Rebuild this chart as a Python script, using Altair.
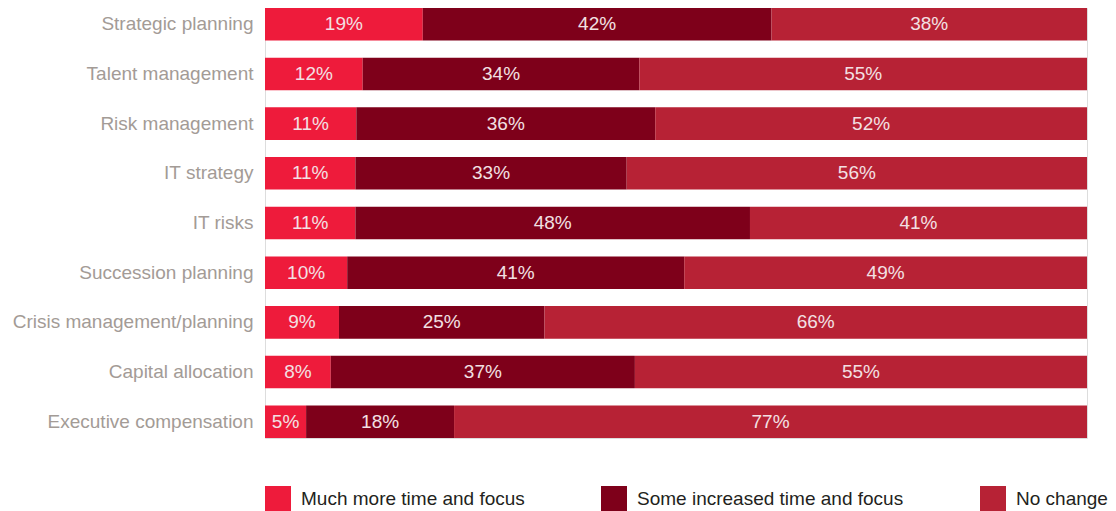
import altair as alt
import pandas as pd

categories = ["Strategic planning", "Talent management", "Risk management", "IT strategy",
              "IT risks", "Succession planning", "Crisis management/planning",
              "Capital allocation", "Executive compensation"]
series = ["Much more time and focus", "Some increased time and focus", "No change"]
much_more = [19, 12, 11, 11, 11, 10, 9, 8, 5]
some_increased = [42, 34, 36, 33, 48, 41, 25, 37, 18]
no_change = [38, 55, 52, 56, 41, 49, 66, 55, 77]
colors = ["#EE1B3B", "#7E001A", "#B72235"]

rows = []
for i, c in enumerate(categories):
    for j, (s, vals) in enumerate(zip(series, [much_more, some_increased, no_change])):
        rows.append({"task": c, "series": s, "order": j, "value": vals[i]})
df = pd.DataFrame(rows)

base = alt.Chart(df).transform_stack(
    stack="value", groupby=["task"], as_=["v0", "v1"], offset="normalize",
    sort=[alt.SortField("order", order="ascending")]
).transform_calculate(mid="(datum.v0 + datum.v1) / 2")

y = alt.Y("task:N", sort=categories, title=None,
          scale=alt.Scale(paddingInner=0.345, paddingOuter=0),
          axis=alt.Axis(domain=False, ticks=False, labelPadding=12, labelFontSize=19,
                        labelColor="#A39B96", labelFont="Liberation Sans", labelLimit=400))

xs = alt.Scale(domain=[0, 1], nice=False)

bars = base.mark_bar().encode(
    y=y,
    x=alt.X("v0:Q", scale=xs, axis=None),
    x2="v1:Q",
    fill=alt.Fill("series:N", sort=series, scale=alt.Scale(domain=series, range=colors),
                  legend=alt.Legend(title=None, orient="none", legendX=0, legendY=478,
                                    direction="horizontal", symbolType="square",
                                    symbolSize=676, symbolStrokeWidth=0, labelFontSize=19,
                                    labelColor="#231F20", labelFont="Liberation Sans",
                                    columnPadding=76, labelOffset=10, padding=0,
                                    labelLimit=400, symbolOpacity=1)),
)

labels = base.mark_text(fontSize=19, color="#F3E0E3", font="Liberation Sans").encode(
    y=alt.Y("task:N", sort=categories),
    x=alt.X("mid:Q", scale=xs),
).transform_calculate(label="datum.value + '%'").encode(text="label:N")

chart = alt.layer(bars, labels).properties(
    width=822, height=430,
    autosize=alt.AutoSizeParams(type="none"),
    padding={"left": 257, "top": 0, "right": 21, "bottom": 80},
).configure_view(stroke=None).configure(background="white")

chart.save("out.html", embed_options={"renderer": "svg", "actions": False})
